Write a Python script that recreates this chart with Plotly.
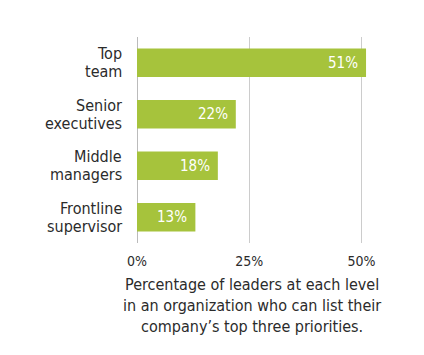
import plotly.graph_objects as go

categories = ["Top<br>team", "Senior<br>executives", "Middle<br>managers", "Frontline<br>supervisor"]
values = [51, 22, 18, 13]
tick_vals = [0, 25, 50]
tick_text = ["0%", "25%", "50%"]
caption = ("Percentage of leaders at each level<br>in an organization who can list their"
           "<br>company\u2019s top three priorities.")

FONT = "Liberation Sans Narrow, DejaVu Sans Condensed, sans-serif"
BAR = "#a6c33c"
TXT = "#2b2b2b"

fig = go.Figure()
fig.add_trace(go.Bar(
    y=list(range(len(categories))), x=values, orientation="h",
    marker=dict(color=BAR, line=dict(width=0)), width=0.55,
    hoverinfo="skip",
))

annotations = []
for i, c in enumerate(categories):
    lines = c.split("<br>")
    n = len(lines)
    for j, ln in enumerate(lines):
        annotations.append(dict(
            x=0, xref="paper", y=i, yref="y", text=ln, showarrow=False,
            xanchor="right", yanchor="middle", xshift=-13,
            yshift=(n - 1) * 9 - j * 18,
            font=dict(family=FONT, size=16, color=TXT),
        ))
for i, v in enumerate(values):
    annotations.append(dict(
        x=v, xref="x", y=i, yref="y", text=f"{v}%", showarrow=False,
        xanchor="right", yanchor="middle", xshift=-6,
        font=dict(family=FONT, size=15, color="white"),
    ))
annotations.append(dict(
    x=25.5, xref="x", y=0, yref="paper", yanchor="top", xanchor="center",
    yshift=-30, text=caption, showarrow=False, align="center",
    font=dict(family=FONT, size=16, color=TXT),
))

fig.update_layout(
    width=424, height=355,
    margin=dict(l=129, r=48, t=29, b=120),
    paper_bgcolor="white", plot_bgcolor="white",
    showlegend=False,
    xaxis=dict(range=[0, 55], tickvals=tick_vals, ticktext=tick_text,
               showgrid=True, gridcolor="#cccccc", gridwidth=1,
               zeroline=True, zerolinecolor="#bbbbbb", zerolinewidth=1,
               showline=False, ticks="", ticklen=0, ticklabelstandoff=8,
               tickfont=dict(family=FONT, size=14, color=TXT)),
    yaxis=dict(range=[3.5, -0.5], showticklabels=False, showgrid=False,
               zeroline=False, showline=False, ticks=""),
    annotations=annotations,
)

fig.write_html("out.html")
